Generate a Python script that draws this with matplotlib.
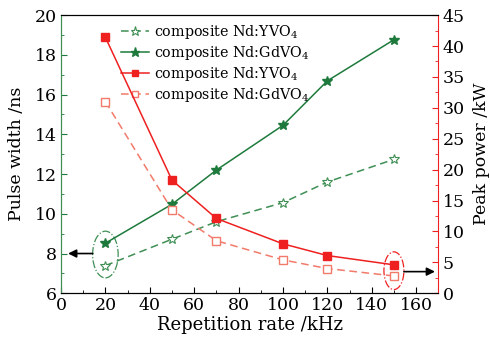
import matplotlib
matplotlib.use("Agg")
import matplotlib.pyplot as plt
from matplotlib.patches import Ellipse
from matplotlib.ticker import MultipleLocator

rate = [20, 50, 70, 100, 120, 150]
pw_yvo4 = [7.39, 8.72, 9.60, 10.56, 11.60, 12.74]
pw_gdvo4 = [8.52, 10.48, 12.20, 14.45, 16.69, 18.76]
pp_yvo4 = [41.4, 18.3, 12.1, 8.0, 6.1, 4.6]
pp_gdvo4 = [31.0, 13.5, 8.5, 5.4, 4.0, 2.8]

labels = [r"composite Nd:YVO$_4$", r"composite Nd:GdVO$_4$",
          r"composite Nd:YVO$_4$", r"composite Nd:GdVO$_4$"]

plt.rcParams['font.family'] = ['DejaVu Serif']
plt.rcParams['mathtext.fontset'] = 'dejavuserif'

green = '#1e7a3c'
green2 = '#3f8f55'
red = '#ee2020'
red2 = '#f27a6a'

fig = plt.figure(figsize=(4.9, 3.43), dpi=100)
ax = fig.add_axes([0.1245, 0.145, 0.77, 0.811])
ax2 = ax.twinx()

l1, = ax.plot(rate, pw_yvo4, '--', color=green2, lw=1.1, marker='*', ms=7.5,
              mfc='white', mec=green2, mew=0.8, dashes=(5, 3))
l2, = ax.plot(rate, pw_gdvo4, '-', color=green, lw=1.1, marker='*', ms=7.5,
              mfc=green, mec=green)
l3, = ax2.plot(rate, pp_yvo4, '-', color=red, lw=1.1, marker='s', ms=5.5,
               mfc=red, mec=red)
l4, = ax2.plot(rate, pp_gdvo4, '--', color=red2, lw=1.1, marker='s', ms=5.5,
               mfc='white', mec=red2, dashes=(5, 3))

ax.set_xlim(0, 170)
ax.set_ylim(6, 20)
ax2.set_ylim(0, 45)
ax.set_xticks(range(0, 161, 20))
ax.set_yticks(range(6, 21, 2))
ax2.set_yticks(range(0, 46, 5))
ax.xaxis.set_minor_locator(MultipleLocator(10))
ax.yaxis.set_minor_locator(MultipleLocator(1))
ax2.yaxis.set_minor_locator(MultipleLocator(2.5))

ax.tick_params(axis='both', which='both', direction='in', labelsize=12.5, pad=3)
ax.tick_params(axis='x', which='major', length=4)
ax.tick_params(axis='x', which='minor', length=2)
ax.tick_params(axis='y', which='major', length=4, color=green)
ax.tick_params(axis='y', which='minor', length=2, color=green)
ax2.tick_params(axis='y', which='major', direction='in', length=4, color=red, labelsize=12.5, pad=3)
ax2.tick_params(axis='y', which='minor', direction='in', length=2, color=red)

ax.spines['left'].set_color(green2)
ax2.spines['left'].set_color(green2)
ax2.spines['right'].set_color(red)
ax.spines['right'].set_visible(False)
for s in ['top', 'bottom']:
    ax2.spines[s].set_color('black')

ax.set_xlabel('Repetition rate /kHz', fontsize=13, labelpad=1)
ax.set_ylabel('Pulse width /ns', fontsize=12.5, labelpad=7)
ax2.set_ylabel('Peak power /kW', fontsize=12.5, labelpad=6)

leg = ax.legend([l1, l2, l3, l4], labels, loc='upper left',
                bbox_to_anchor=(0.145, 0.993), frameon=False, fontsize=10.3,
                handlelength=1.9, handletextpad=0.35, labelspacing=0.22,
                borderaxespad=0.0, markerscale=0.9)

# annotations
ax.add_patch(Ellipse((20, 7.95), 11.5, 2.35, fill=False, ec=green2,
                     ls='-.', lw=0.9))
ax.annotate('', xy=(3.2, 8.0), xytext=(14.3, 8.0),
            arrowprops=dict(arrowstyle='-|>', color='black', lw=1.2,
                            mutation_scale=12, shrinkA=0, shrinkB=0))
ax2.add_patch(Ellipse((150, 3.65), 9.0, 6.1, fill=False, ec=red,
                      ls='-.', lw=0.9))
ax2.annotate('', xy=(168.5, 3.5), xytext=(154.5, 3.5),
             arrowprops=dict(arrowstyle='-|>', color='black', lw=1.2,
                             mutation_scale=12, shrinkA=0, shrinkB=0))

fig.savefig('out.png', dpi=100)
